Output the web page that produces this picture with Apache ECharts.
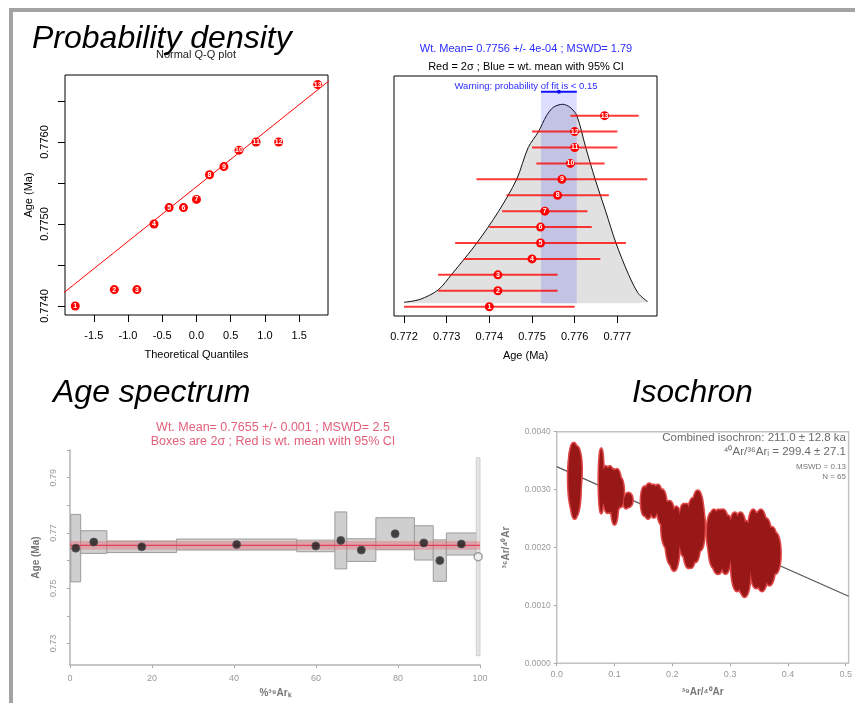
<!DOCTYPE html>
<html>
<head>
<meta charset="utf-8">
<script src="https://cdn.jsdelivr.net/npm/echarts@6.0.0/dist/echarts.min.js"></script>
<style>
html, body { margin: 0; padding: 0; background: #fff; }
#frame { position: absolute; left: 9px; top: 8px; width: 846px; height: 695px; box-sizing: border-box;
         border-top: 4px solid #a3a3a3; border-left: 4px solid #a3a3a3; }
#top { position: absolute; left: 0; top: 0; width: 855px; height: 370px; }
#bottom { position: absolute; left: 0; top: 370px; width: 855px; height: 333px; filter: blur(0.6px); }
</style>
</head>
<body>
<div id="frame"></div>
<div id="top"></div>
<div id="bottom"></div>
<script>
// ---- probability density / Q-Q data (13 grains) ----
var qqQuant = [-1.77, -1.20, -0.87, -0.62, -0.40, -0.19, 0.00, 0.19, 0.40, 0.62, 0.87, 1.20, 1.77];
var grainAge = [0.7740, 0.7742, 0.7742, 0.7750, 0.7752, 0.7752, 0.7753, 0.7756, 0.7757, 0.7759, 0.7760, 0.7760, 0.7767];
var grainErr = [0.0020, 0.0014, 0.0014, 0.0016, 0.0020, 0.0012, 0.0010, 0.0012, 0.0020, 0.0008, 0.0010, 0.0010, 0.0008];
var qqLine = [[-2.0, 0.77412], [2.0, 0.77679]];
var qqTicksX = [-1.5, -1.0, -0.5, 0, 0.5, 1.0, 1.5];
var qqTicksY = [0.7740, 0.7745, 0.7750, 0.7755, 0.7760, 0.7765];
var qqLabelsY = [0.7740, 0.7750, 0.7760];

var densAge = [0.77200, 0.77238, 0.77280, 0.77312, 0.77370, 0.77421, 0.77464, 0.77491, 0.77515, 0.77534, 0.77550,
               0.77572, 0.77589, 0.77605, 0.77626, 0.77648, 0.77673, 0.77697, 0.77726, 0.77749, 0.77771];
var densVal = [0.005, 0.020, 0.067, 0.146, 0.301, 0.460, 0.623, 0.782, 0.862, 0.943, 0.985,
               1.000, 0.985, 0.943, 0.782, 0.623, 0.460, 0.301, 0.146, 0.050, 0.008];
var wMean = 0.77563;
var wCI = 0.00042;
var ageTicks = [0.772, 0.773, 0.774, 0.775, 0.776, 0.777];

// ---- age spectrum steps ----
var stepStart = [0.2, 2.6, 9.0, 26.0, 55.3, 64.6, 67.5, 74.6, 84.0, 88.6, 91.8, 99.1];
var stepEnd = [2.6, 9.0, 26.0, 55.3, 64.6, 67.5, 74.6, 84.0, 88.6, 91.8, 99.1, 100.0];
var stepAge = [0.7645, 0.7667, 0.7650, 0.7658, 0.7653, 0.7673, 0.7638, 0.7697, 0.7664, 0.7600, 0.7660, 0.7614];
var stepErr = [0.0122, 0.0041, 0.0021, 0.0020, 0.0021, 0.0103, 0.0041, 0.0058, 0.0062, 0.0075, 0.0040, 0.0358];
var stepUsed = [1, 1, 1, 1, 1, 1, 1, 1, 1, 1, 1, 0];
var specMean = 0.7655;
var specBand = 0.0016;
var specTicksX = [0, 20, 40, 60, 80, 100];
var specTicksY = [0.73, 0.74, 0.75, 0.76, 0.77, 0.78, 0.79, 0.80];
var specLabelsY = [0.73, 0.75, 0.77, 0.79];

// ---- isochron ellipses (centre and half axes) ----
var isoX = [0.030, 0.032, 0.029, 0.033, 0.031, 0.034, 0.028, 0.030, 0.035,
            0.077, 0.085, 0.092, 0.098, 0.104, 0.100, 0.088, 0.110,
            0.124, 0.120,
            0.152, 0.160, 0.168, 0.175, 0.158, 0.182, 0.165, 0.178,
            0.190, 0.198, 0.203, 0.195, 0.207,
            0.220, 0.228, 0.236, 0.244, 0.232, 0.240, 0.248, 0.224,
            0.272, 0.280, 0.288, 0.278, 0.292, 0.285, 0.268, 0.296,
            0.308, 0.315, 0.322, 0.318, 0.328, 0.312, 0.325,
            0.340, 0.347, 0.353, 0.345, 0.358, 0.362, 0.355, 0.372, 0.378, 0.368];
var isoY = [0.00330, 0.00315, 0.00345, 0.00300, 0.00290, 0.00335, 0.00320, 0.00310, 0.00320,
            0.00315, 0.00305, 0.00300, 0.00305, 0.00300, 0.00280, 0.00290, 0.00295,
            0.00282, 0.00278,
            0.00280, 0.00285, 0.00280, 0.00283, 0.00270, 0.00270, 0.00290, 0.00275,
            0.00240, 0.00220, 0.00205, 0.00255, 0.00230,
            0.00230, 0.00215, 0.00240, 0.00250, 0.00205, 0.00225, 0.00235, 0.00245,
            0.00215, 0.00210, 0.00220, 0.00195, 0.00200, 0.00230, 0.00225, 0.00215,
            0.00210, 0.00190, 0.00175, 0.00215, 0.00195, 0.00170, 0.00160,
            0.00210, 0.00200, 0.00215, 0.00180, 0.00185, 0.00205, 0.00165, 0.00195, 0.00190, 0.00175];
var isoRx = [0.008, 0.009, 0.007, 0.008, 0.007, 0.009, 0.008, 0.007, 0.007,
             0.004, 0.008, 0.008, 0.007, 0.008, 0.006, 0.007, 0.006,
             0.007, 0.004,
             0.006, 0.008, 0.007, 0.007, 0.006, 0.008, 0.006, 0.006,
             0.009, 0.010, 0.009, 0.008, 0.008,
             0.009, 0.010, 0.010, 0.010, 0.009, 0.009, 0.008, 0.008,
             0.010, 0.011, 0.010, 0.010, 0.010, 0.009, 0.008, 0.008,
             0.010, 0.011, 0.011, 0.010, 0.010, 0.010, 0.010,
             0.010, 0.011, 0.011, 0.011, 0.011, 0.010, 0.010, 0.010, 0.009, 0.010];
var isoRy = [0.00050, 0.00060, 0.00035, 0.00045, 0.00040, 0.00040, 0.00055, 0.00030, 0.00035,
             0.00055, 0.00035, 0.00040, 0.00030, 0.00035, 0.00040, 0.00030, 0.00025,
             0.00012, 0.00010,
             0.00025, 0.00025, 0.00028, 0.00025, 0.00020, 0.00030, 0.00018, 0.00022,
             0.00040, 0.00050, 0.00045, 0.00025, 0.00040,
             0.00045, 0.00050, 0.00045, 0.00048, 0.00040, 0.00050, 0.00040, 0.00030,
             0.00050, 0.00055, 0.00045, 0.00040, 0.00045, 0.00035, 0.00035, 0.00040,
             0.00050, 0.00060, 0.00055, 0.00045, 0.00050, 0.00045, 0.00045,
             0.00055, 0.00060, 0.00050, 0.00050, 0.00050, 0.00045, 0.00040, 0.00040, 0.00035, 0.00040];
var isoLine = [[0.0, 0.003396], [0.505, 0.001158]];
var isoTicksX = [0, 0.1, 0.2, 0.3, 0.4, 0.5];
var isoTicksY = [0, 0.001, 0.002, 0.003, 0.004];

var fam = '"Liberation Sans", Arial, sans-serif';
var bandTop = 1.063;

function txt(x, y, s, size, color, align, extra) {
    return {
        type: 'text', x: x, y: y, silent: true,
        style: {
            text: s, font: (extra || '') + ' ' + size + 'px ' + fam, fill: color,
            textAlign: align || 'center', textVerticalAlign: 'middle'
        }
    };
}

var qqData = [], grainRows = [], errRows = [], densData = [];
for (var i = 0; i < grainAge.length; i++) {
    qqData.push([qqQuant[i], grainAge[i]]);
    grainRows.push([grainAge[i], i + 1]);
    errRows.push([grainAge[i], grainErr[i], i + 1]);
}
for (var j = 0; j < densAge.length; j++) densData.push([densAge[j], densVal[j]]);

var numLabel = {
    show: true, position: 'inside', color: '#fff', fontSize: 7, fontWeight: 'bold',
    formatter: function (p) { return p.dataIndex + 1; }
};
var noLine = { show: false, onZero: false };

var topChart = echarts.init(document.getElementById('top'), null, { renderer: 'canvas' });
var topOption = {
    animation: false,
    textStyle: { fontFamily: fam },
    graphic: [
        txt(196, 55, 'Normal Q-Q plot', 11, '#222'),
        txt(32, 39, 'Probability density', 32, '#000', 'left', 'italic'),
        txt(526, 49, 'Wt. Mean= 0.7756 +/- 4e-04 ; MSWD= 1.79', 11, '#2b2bff'),
        txt(526, 67, 'Red = 2\u03c3 ; Blue = wt. mean with 95% CI', 11, '#000'),
        txt(526, 86, 'Warning: probability of fit is < 0.15', 9.5, '#2b2bff')
    ],
    grid: [
        { left: 65, top: 75, width: 263, height: 240, show: true, borderColor: '#000', borderWidth: 1 },
        { left: 394, top: 76, width: 263, height: 240, show: true, borderColor: '#000', borderWidth: 1 }
    ],
    xAxis: [
        {
            gridIndex: 0, type: 'value', min: -1.92, max: 1.92,
            axisLine: noLine,
            axisTick: { show: true, inside: false, length: 7, customValues: qqTicksX, lineStyle: { color: '#000' } },
            axisLabel: { customValues: qqTicksX, margin: 15, fontSize: 11, color: '#000',
                formatter: function (v) { return v.toFixed(1); } },
            splitLine: { show: false },
            name: 'Theoretical Quantiles', nameLocation: 'middle', nameGap: 34,
            nameTextStyle: { fontSize: 11, color: '#000' }
        },
        {
            gridIndex: 1, type: 'value', min: 0.771766, max: 0.777929,
            axisLine: noLine,
            axisTick: { show: true, inside: false, length: 7, customValues: ageTicks, lineStyle: { color: '#000' } },
            axisLabel: { customValues: ageTicks, margin: 15, fontSize: 11, color: '#000',
                formatter: function (v) { return v.toFixed(3); } },
            splitLine: { show: false },
            name: 'Age (Ma)', nameLocation: 'middle', nameGap: 34,
            nameTextStyle: { fontSize: 11, color: '#000' }
        }
    ],
    yAxis: [
        {
            gridIndex: 0, type: 'value', min: 0.773890, max: 0.776817,
            axisLine: noLine,
            axisTick: { show: true, inside: false, length: 7, customValues: qqTicksY, lineStyle: { color: '#000' } },
            axisLabel: { customValues: qqLabelsY, margin: 15, rotate: 90, fontSize: 11, color: '#000',
                formatter: function (v) { return v.toFixed(4); } },
            splitLine: { show: false },
            name: 'Age (Ma)', nameLocation: 'middle', nameGap: 31,
            nameTextStyle: { fontSize: 11, color: '#000' }
        },
        { gridIndex: 1, type: 'value', min: 0.416, max: 15.49, show: false, axisLine: noLine },
        { gridIndex: 1, type: 'value', min: -0.0638, max: 1.142, show: false, axisLine: noLine }
    ],
    series: [
        {
            type: 'line', xAxisIndex: 0, yAxisIndex: 0, data: qqLine, symbol: 'none', z: 2,
            lineStyle: { color: '#ff0000', width: 1 }, silent: true
        },
        {
            type: 'scatter', xAxisIndex: 0, yAxisIndex: 0, data: qqData, symbolSize: 9, z: 3,
            itemStyle: { color: '#ff0000', opacity: 1 }, label: numLabel
        },
        {
            type: 'line', xAxisIndex: 1, yAxisIndex: 2, data: densData, symbol: 'none', smooth: 0.3, z: 1,
            lineStyle: { color: '#111', width: 1 },
            areaStyle: { color: '#e1e1e1', opacity: 1 }
        },
        {
            type: 'custom', xAxisIndex: 1, yAxisIndex: 2, data: [[wMean, wCI]], z: 2,
            renderItem: function (params, api) {
                var p1 = api.coord([api.value(0) - api.value(1), bandTop]);
                var p2 = api.coord([api.value(0) + api.value(1), 0]);
                return {
                    type: 'group', children: [
                        { type: 'rect', shape: { x: p1[0], y: p1[1], width: p2[0] - p1[0], height: p2[1] - p1[1] },
                          style: { fill: 'rgba(0,0,255,0.13)' } },
                        { type: 'line', shape: { x1: p1[0], y1: p1[1], x2: p2[0], y2: p1[1] },
                          style: { stroke: '#1010ff', lineWidth: 2 } },
                        { type: 'circle', shape: { cx: (p1[0] + p2[0]) / 2, cy: p1[1], r: 2 },
                          style: { fill: '#1010ff' } }
                    ]
                };
            }
        },
        {
            type: 'custom', xAxisIndex: 1, yAxisIndex: 1, data: errRows, clip: true, z: 3,
            renderItem: function (params, api) {
                var lo = api.coord([api.value(0) - api.value(1), api.value(2)]);
                var hi = api.coord([api.value(0) + api.value(1), api.value(2)]);
                return { type: 'line', shape: { x1: lo[0], y1: lo[1], x2: hi[0], y2: hi[1] },
                         style: { stroke: 'rgba(255,0,0,0.78)', lineWidth: 2 } };
            }
        },
        {
            type: 'scatter', xAxisIndex: 1, yAxisIndex: 1, data: grainRows, symbolSize: 9, z: 4,
            itemStyle: { color: '#ff0000', opacity: 1 }, label: numLabel
        }
    ]
};
topChart.setOption(topOption);

// ---- bottom row: age spectrum and isochron ----
var stepBoxes = [], stepDots = [], isoData = [];
for (var k = 0; k < stepAge.length; k++) {
    stepBoxes.push([stepStart[k], stepEnd[k], stepAge[k], stepErr[k], stepUsed[k]]);
    stepDots.push({
        value: [(stepStart[k] + stepEnd[k]) / 2, stepAge[k]],
        itemStyle: stepUsed[k] ? { color: '#1b1b1b', borderColor: '#555', borderWidth: 1 }
                               : { color: '#f2f2f2', borderColor: '#888', borderWidth: 1.5 }
    });
}
for (var m = 0; m < isoX.length; m++) isoData.push([isoX[m], isoY[m], isoRx[m], isoRy[m]]);

var greyAxis = { show: true, onZero: false, lineStyle: { color: '#b4b4b4', width: 1.5 } };

function ellipseItem(fill, stroke, width) {
    return function (params, api) {
        var c = api.coord([api.value(0), api.value(1)]);
        var s = api.size([api.value(2), api.value(3)]);
        var pts = [];
        for (var t = 0; t < 40; t++) {
            var a = t / 40 * Math.PI * 2;
            pts.push([c[0] + s[0] * Math.cos(a), c[1] + s[1] * Math.sin(a)]);
        }
        return { type: 'polygon', shape: { points: pts },
                 style: { fill: fill, stroke: stroke, lineWidth: width } };
    };
}

var bottomChart = echarts.init(document.getElementById('bottom'), null, { renderer: 'canvas' });
var bottomOption = {
    animation: false,
    textStyle: { fontFamily: fam },
    graphic: [
        txt(53, 23, 'Age spectrum', 32, '#000', 'left', 'italic'),
        txt(632, 23, 'Isochron', 31.5, '#000', 'left', 'italic'),
        txt(273, 58, 'Wt. Mean= 0.7655 +/- 0.001 ; MSWD= 2.5', 12.5, '#e2607a'),
        txt(273, 72, 'Boxes are 2\u03c3 ; Red is wt. mean with 95% CI', 12.5, '#e2607a'),
        txt(846, 68, 'Combined isochron: 211.0 \u00b1 12.8 ka', 11.5, '#6a6a6a', 'right'),
        txt(846, 82, '\u2074\u2070Ar/\u00b3\u2076Ar\u1d62 = 299.4 \u00b1 27.1', 11.5, '#6a6a6a', 'right'),
        txt(846, 97, 'MSWD = 0.13', 8, '#777', 'right'),
        txt(846, 107, 'N = 65', 8, '#777', 'right')
    ],
    grid: [
        { left: 70, top: 80, width: 410, height: 221 },
        { left: 556.7, top: 61.7, width: 296.4, height: 231.6, show: true, borderColor: '#c2c2c2', borderWidth: 1.5 }
    ],
    xAxis: [
        {
            gridIndex: 0, type: 'value', min: 0, max: 100, axisLine: greyAxis,
            axisTick: { show: true, inside: false, length: 3, customValues: specTicksX, lineStyle: { color: '#aaa' } },
            axisLabel: { customValues: specTicksX, margin: 9, fontSize: 9, color: '#999' },
            splitLine: { show: false },
            name: '%\u00b3\u2079Ar\u2096', nameLocation: 'middle', nameGap: 21,
            nameTextStyle: { fontSize: 10, color: '#777', fontWeight: 'bold' }
        },
        {
            gridIndex: 1, type: 'value', min: 0, max: 0.505, axisLine: { show: false, onZero: false },
            axisTick: { show: true, inside: false, length: 3, customValues: isoTicksX, lineStyle: { color: '#aaa' } },
            axisLabel: { customValues: isoTicksX, margin: 7, fontSize: 9, color: '#999',
                formatter: function (v) { return v.toFixed(1); } },
            splitLine: { show: false },
            name: '\u00b3\u2079Ar/\u2074\u2070Ar', nameLocation: 'middle', nameGap: 24,
            nameTextStyle: { fontSize: 10, color: '#777', fontWeight: 'bold' }
        }
    ],
    yAxis: [
        {
            gridIndex: 0, type: 'value', min: 0.7222, max: 0.80, axisLine: greyAxis,
            axisTick: { show: true, inside: false, length: 3, customValues: specTicksY, lineStyle: { color: '#aaa' } },
            axisLabel: { customValues: specLabelsY, margin: 12, rotate: 90, fontSize: 9, color: '#999',
                formatter: function (v) { return v.toFixed(2); } },
            splitLine: { show: false },
            name: 'Age (Ma)', nameLocation: 'middle', nameGap: 29,
            nameTextStyle: { fontSize: 10, color: '#777', fontWeight: 'bold' }
        },
        {
            gridIndex: 1, type: 'value', min: 0, max: 0.004, axisLine: { show: false, onZero: false },
            axisTick: { show: true, inside: false, length: 3, customValues: isoTicksY, lineStyle: { color: '#aaa' } },
            axisLabel: { customValues: isoTicksY, margin: 6, fontSize: 8.5, color: '#999',
                formatter: function (v) { return v.toFixed(4); } },
            splitLine: { show: false },
            name: '\u00b3\u2076Ar/\u2074\u2070Ar', nameLocation: 'middle', nameGap: 45,
            nameTextStyle: { fontSize: 10, color: '#777', fontWeight: 'bold' }
        }
    ],
    series: [
        {
            type: 'custom', xAxisIndex: 0, yAxisIndex: 0, data: stepBoxes, z: 1,
            renderItem: function (params, api) {
                var p1 = api.coord([api.value(0), api.value(2) + api.value(3)]);
                var p2 = api.coord([api.value(1), api.value(2) - api.value(3)]);
                var used = api.value(4) === 1;
                return { type: 'rect', shape: { x: p1[0], y: p1[1], width: p2[0] - p1[0], height: p2[1] - p1[1] },
                         style: { fill: used ? '#cfcfcf' : '#e4e4e4', stroke: used ? '#9c9c9c' : '#cfcfcf', lineWidth: 1 } };
            }
        },
        {
            type: 'custom', xAxisIndex: 0, yAxisIndex: 0, data: [[0, 100, specMean, specBand]], z: 2,
            renderItem: function (params, api) {
                var p1 = api.coord([api.value(0), api.value(2) + api.value(3)]);
                var p2 = api.coord([api.value(1), api.value(2) - api.value(3)]);
                var c = api.coord([api.value(0), api.value(2)]);
                return {
                    type: 'group', children: [
                        { type: 'rect', shape: { x: p1[0], y: p1[1], width: p2[0] - p1[0], height: p2[1] - p1[1] },
                          style: { fill: 'rgba(232,110,125,0.45)' } },
                        { type: 'line', shape: { x1: p1[0], y1: c[1], x2: p2[0], y2: c[1] },
                          style: { stroke: '#e04058', lineWidth: 1.2 } }
                    ]
                };
            }
        },
        {
            type: 'scatter', xAxisIndex: 0, yAxisIndex: 0, data: stepDots, symbolSize: 8, z: 3
        },
        {
            type: 'line', xAxisIndex: 1, yAxisIndex: 1, data: isoLine, symbol: 'none', z: 1,
            lineStyle: { color: '#5a5a5a', width: 1.3 }
        },
        {
            type: 'custom', xAxisIndex: 1, yAxisIndex: 1, data: isoData, z: 2,
            renderItem: ellipseItem('#cf3535', '#e04848', 3)
        },
        {
            type: 'custom', xAxisIndex: 1, yAxisIndex: 1, data: isoData, z: 3,
            renderItem: ellipseItem('#981818', 'rgba(0,0,0,0)', 0)
        }
    ]
};
bottomChart.setOption(bottomOption);

window.addEventListener('resize', function () {
    topChart.resize();
    bottomChart.resize();
});
</script>
</body>
</html>
